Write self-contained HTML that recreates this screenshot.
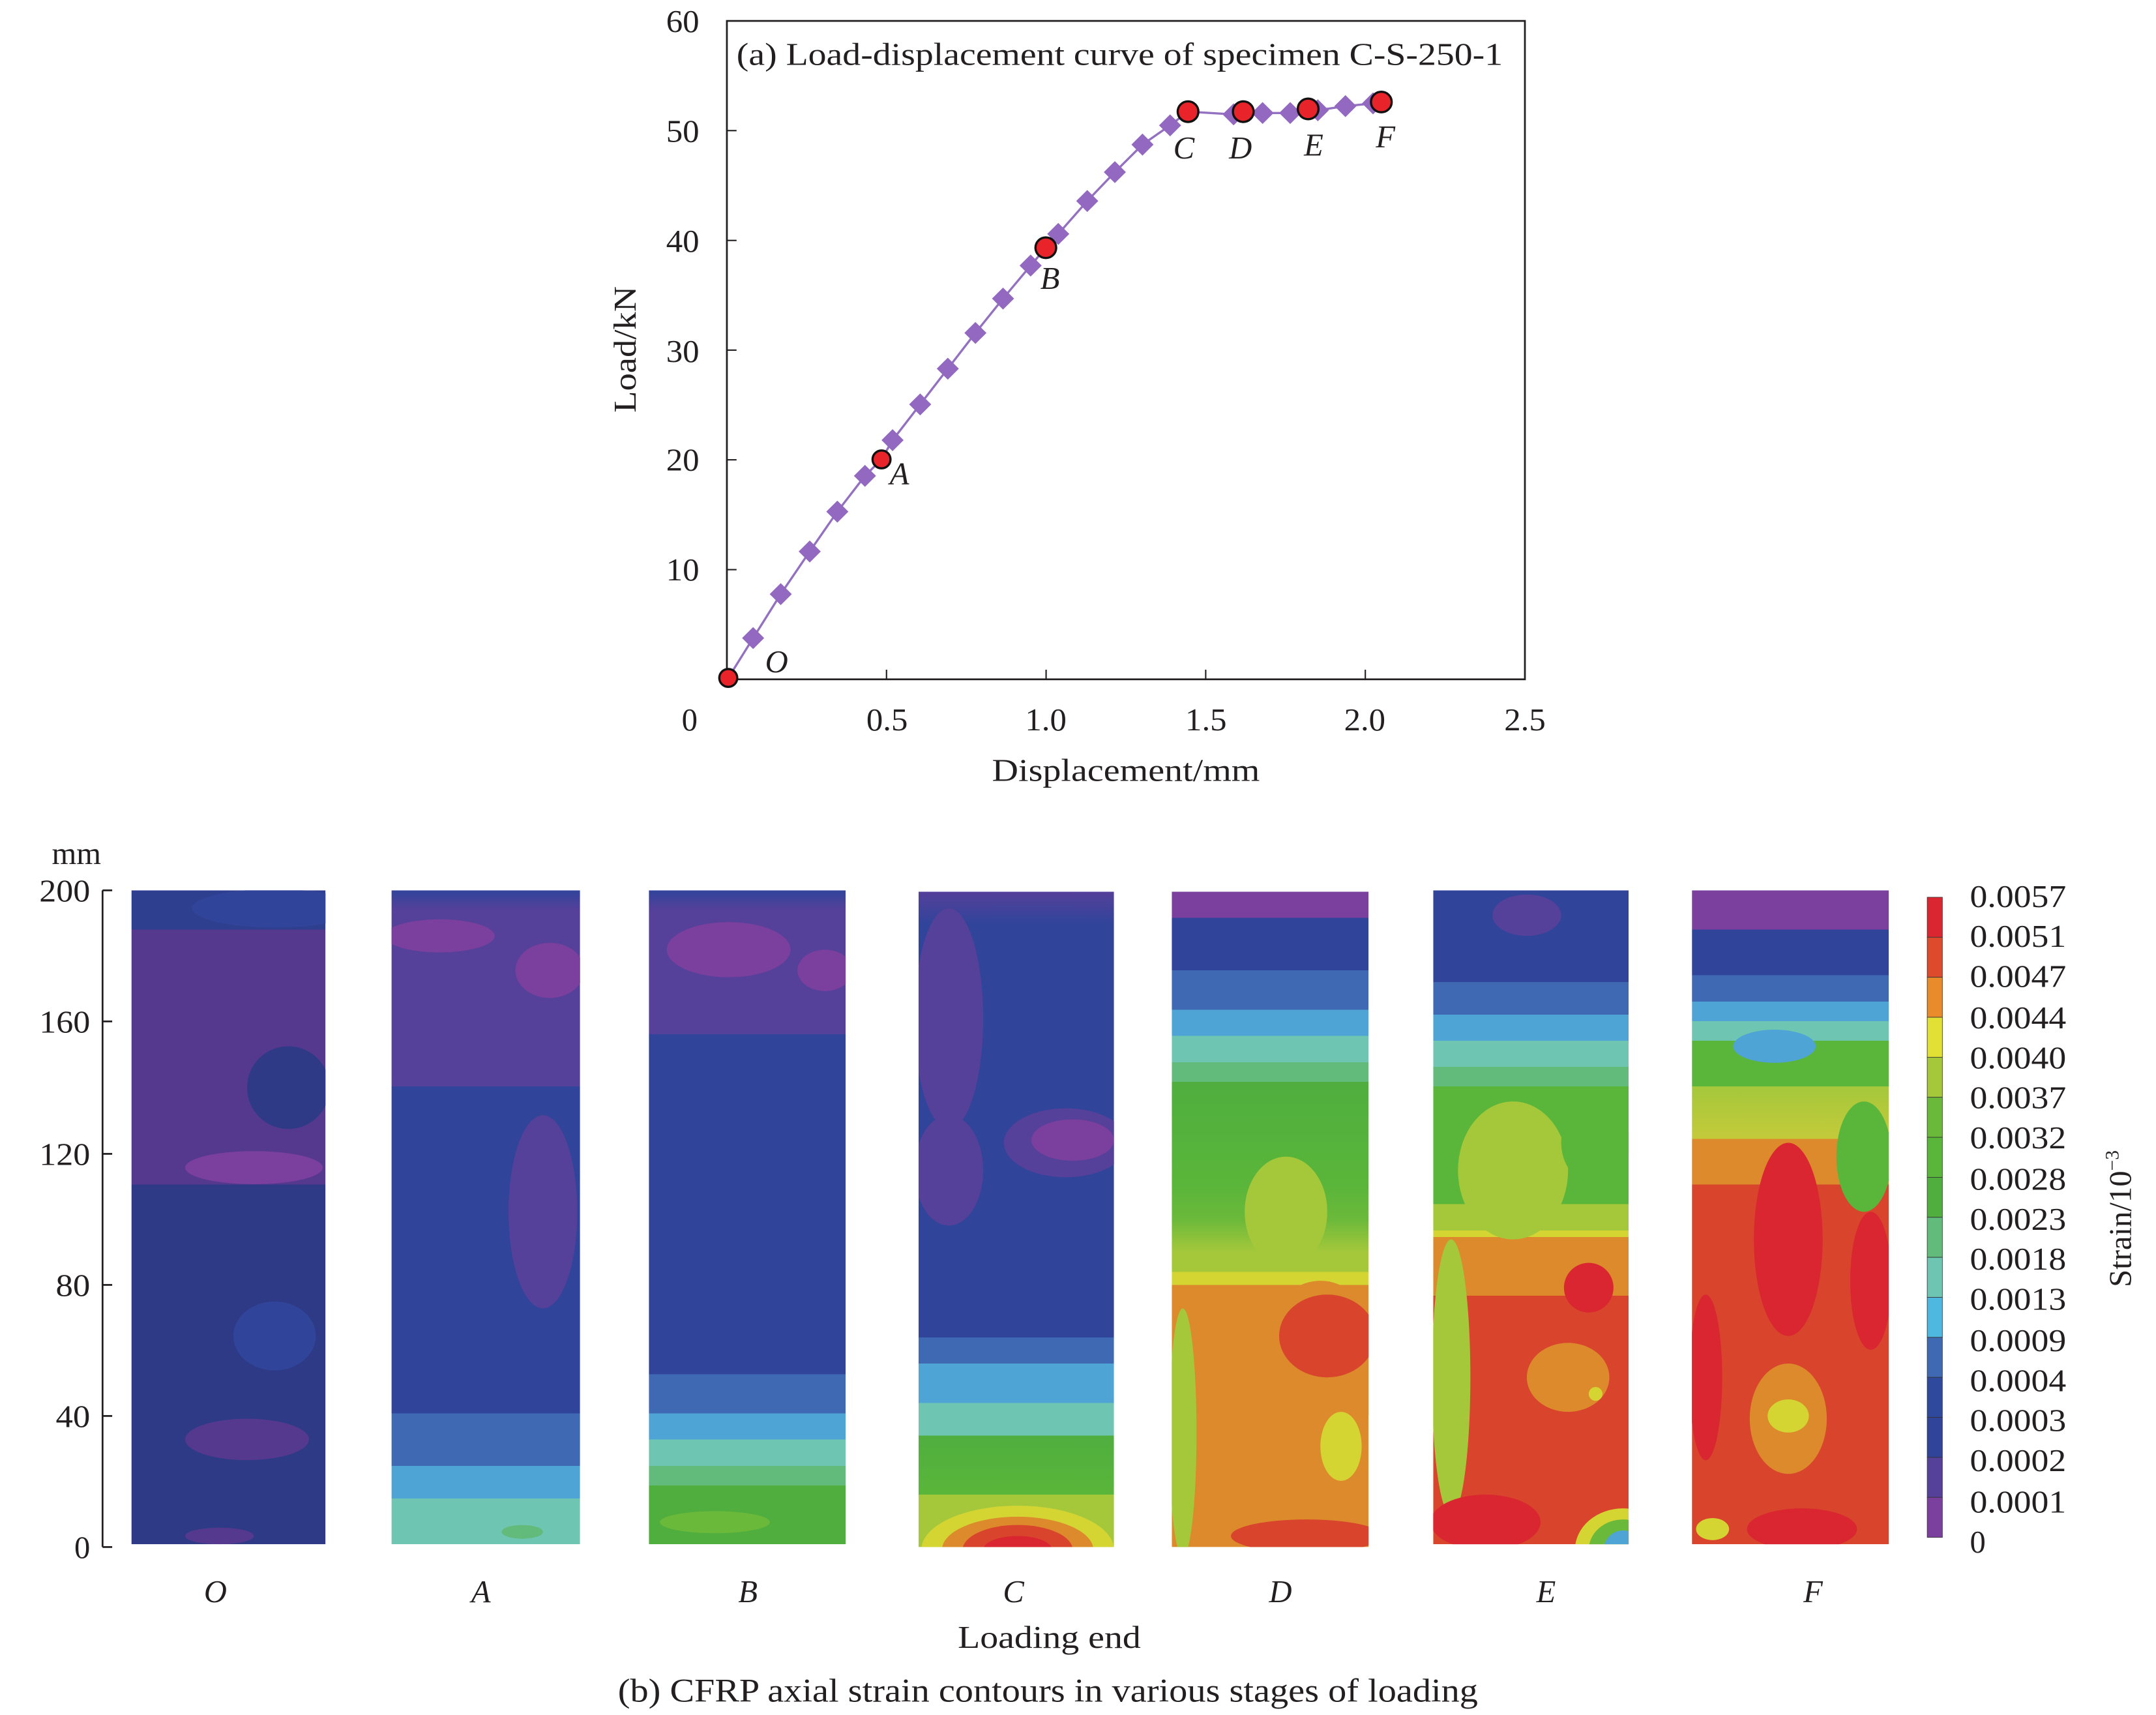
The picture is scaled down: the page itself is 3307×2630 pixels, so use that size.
<!DOCTYPE html>
<html><head><meta charset="utf-8"><style>
html,body{margin:0;padding:0;background:#fff}
svg{display:block}
text{font-family:"Liberation Serif",serif;fill:#231f20}
</style></head><body>
<svg width="3307" height="2630" viewBox="0 0 1550 1232.7" xmlns="http://www.w3.org/2000/svg">
<defs>
<linearGradient id="gO" x1="0" y1="0" x2="0" y2="1">
<stop offset="0" stop-color="#2f3f8f"/><stop offset="0.06" stop-color="#2f3f8f"/><stop offset="0.06" stop-color="#55398f"/><stop offset="0.45" stop-color="#55398f"/><stop offset="0.45" stop-color="#2e3a85"/><stop offset="1" stop-color="#2e3a85"/></linearGradient>
<linearGradient id="gA" x1="0" y1="0" x2="0" y2="1">
<stop offset="0" stop-color="#30449a"/><stop offset="0.03" stop-color="#55409a"/><stop offset="0.3" stop-color="#55409a"/><stop offset="0.3" stop-color="#30449a"/><stop offset="0.8" stop-color="#30449a"/><stop offset="0.8" stop-color="#3f6ab3"/><stop offset="0.88" stop-color="#3f6ab3"/><stop offset="0.88" stop-color="#4fa4d6"/><stop offset="0.93" stop-color="#4fa4d6"/><stop offset="0.93" stop-color="#6ec6b2"/><stop offset="1" stop-color="#6ec6b2"/></linearGradient>
<linearGradient id="gB" x1="0" y1="0" x2="0" y2="1">
<stop offset="0" stop-color="#30449a"/><stop offset="0.03" stop-color="#55409a"/><stop offset="0.22" stop-color="#55409a"/><stop offset="0.22" stop-color="#30449a"/><stop offset="0.74" stop-color="#30449a"/><stop offset="0.74" stop-color="#3f6ab3"/><stop offset="0.8" stop-color="#3f6ab3"/><stop offset="0.8" stop-color="#4fa4d6"/><stop offset="0.84" stop-color="#4fa4d6"/><stop offset="0.84" stop-color="#6ec6b2"/><stop offset="0.88" stop-color="#6ec6b2"/><stop offset="0.88" stop-color="#62bb7a"/><stop offset="0.91" stop-color="#62bb7a"/><stop offset="0.91" stop-color="#4fae3e"/><stop offset="1" stop-color="#4fae3e"/></linearGradient>
<linearGradient id="gC" x1="0" y1="0" x2="0" y2="1">
<stop offset="0" stop-color="#55409a"/><stop offset="0.05" stop-color="#30449a"/><stop offset="0.68" stop-color="#30449a"/><stop offset="0.68" stop-color="#3f6ab3"/><stop offset="0.72" stop-color="#3f6ab3"/><stop offset="0.72" stop-color="#4fa4d6"/><stop offset="0.78" stop-color="#4fa4d6"/><stop offset="0.78" stop-color="#6ec6b2"/><stop offset="0.83" stop-color="#6ec6b2"/><stop offset="0.83" stop-color="#4fae3e"/><stop offset="0.92" stop-color="#5ab63a"/><stop offset="0.92" stop-color="#a5c83b"/><stop offset="1" stop-color="#a5c83b"/></linearGradient>
<linearGradient id="gD" x1="0" y1="0" x2="0" y2="1">
<stop offset="0" stop-color="#7b3f9e"/><stop offset="0.04" stop-color="#7b3f9e"/><stop offset="0.04" stop-color="#30449a"/><stop offset="0.12" stop-color="#30449a"/><stop offset="0.12" stop-color="#3f6ab3"/><stop offset="0.18" stop-color="#3f6ab3"/><stop offset="0.18" stop-color="#4fa4d6"/><stop offset="0.22" stop-color="#4fa4d6"/><stop offset="0.22" stop-color="#6ec6b2"/><stop offset="0.26" stop-color="#6ec6b2"/><stop offset="0.26" stop-color="#62bb7a"/><stop offset="0.29" stop-color="#62bb7a"/><stop offset="0.29" stop-color="#4fae3e"/><stop offset="0.45" stop-color="#5ab63a"/><stop offset="0.5" stop-color="#6bb93a"/><stop offset="0.55" stop-color="#a5c83b"/><stop offset="0.58" stop-color="#a5c83b"/><stop offset="0.58" stop-color="#d4d533"/><stop offset="0.6" stop-color="#d4d533"/><stop offset="0.6" stop-color="#dc8a2c"/><stop offset="1" stop-color="#dc8a2c"/></linearGradient>
<linearGradient id="gE" x1="0" y1="0" x2="0" y2="1">
<stop offset="0" stop-color="#30449a"/><stop offset="0.14" stop-color="#30449a"/><stop offset="0.14" stop-color="#3f6ab3"/><stop offset="0.19" stop-color="#3f6ab3"/><stop offset="0.19" stop-color="#4fa4d6"/><stop offset="0.23" stop-color="#4fa4d6"/><stop offset="0.23" stop-color="#6ec6b2"/><stop offset="0.27" stop-color="#6ec6b2"/><stop offset="0.27" stop-color="#62bb7a"/><stop offset="0.3" stop-color="#62bb7a"/><stop offset="0.3" stop-color="#5ab63a"/><stop offset="0.48" stop-color="#5ab63a"/><stop offset="0.48" stop-color="#a5c83b"/><stop offset="0.52" stop-color="#a5c83b"/><stop offset="0.52" stop-color="#d4d533"/><stop offset="0.53" stop-color="#d4d533"/><stop offset="0.53" stop-color="#dc8a2c"/><stop offset="0.62" stop-color="#dc8a2c"/><stop offset="0.62" stop-color="#d8452c"/><stop offset="1" stop-color="#d8452c"/></linearGradient>
<linearGradient id="gF" x1="0" y1="0" x2="0" y2="1">
<stop offset="0" stop-color="#7b3f9e"/><stop offset="0.06" stop-color="#7b3f9e"/><stop offset="0.06" stop-color="#30449a"/><stop offset="0.13" stop-color="#30449a"/><stop offset="0.13" stop-color="#3f6ab3"/><stop offset="0.17" stop-color="#3f6ab3"/><stop offset="0.17" stop-color="#4fa4d6"/><stop offset="0.2" stop-color="#4fa4d6"/><stop offset="0.2" stop-color="#6ec6b2"/><stop offset="0.23" stop-color="#6ec6b2"/><stop offset="0.23" stop-color="#5ab63a"/><stop offset="0.3" stop-color="#5ab63a"/><stop offset="0.3" stop-color="#a5c83b"/><stop offset="0.38" stop-color="#c3ca3a"/><stop offset="0.38" stop-color="#dc8a2c"/><stop offset="0.45" stop-color="#dc8a2c"/><stop offset="0.45" stop-color="#d8452c"/><stop offset="1" stop-color="#d8452c"/></linearGradient>
<clipPath id="cO"><rect x="96" y="647" width="141" height="474"/></clipPath>
<clipPath id="cA"><rect x="285" y="647" width="137" height="474"/></clipPath>
<clipPath id="cB"><rect x="472" y="647" width="143" height="474"/></clipPath>
<clipPath id="cC"><rect x="668" y="648" width="142" height="475"/></clipPath>
<clipPath id="cD"><rect x="852" y="648" width="143" height="475"/></clipPath>
<clipPath id="cE"><rect x="1042" y="647" width="142" height="474"/></clipPath>
<clipPath id="cF"><rect x="1230" y="647" width="143" height="474"/></clipPath>
</defs>

<g transform="matrix(0.9926,0,0,0.988,-3.5,1.2)">
<rect x="530" y="14" width="578" height="479" fill="none" stroke="#231f20" stroke-width="1.3"/>
<g stroke="#231f20" stroke-width="1">
<line x1="530" y1="93.8" x2="537" y2="93.8"/><line x1="530" y1="173.7" x2="537" y2="173.7"/><line x1="530" y1="253.5" x2="537" y2="253.5"/><line x1="530" y1="333.3" x2="537" y2="333.3"/><line x1="530" y1="413.2" x2="537" y2="413.2"/>
<line x1="645.6" y1="493" x2="645.6" y2="486"/><line x1="761.2" y1="493" x2="761.2" y2="486"/><line x1="876.8" y1="493" x2="876.8" y2="486"/><line x1="992.4" y1="493" x2="992.4" y2="486"/>
</g>
<g font-size="23" text-anchor="end">
<text x="510" y="22" textLength="24" lengthAdjust="spacingAndGlyphs">60</text><text x="510" y="102" textLength="24" lengthAdjust="spacingAndGlyphs">50</text><text x="510" y="182" textLength="24" lengthAdjust="spacingAndGlyphs">40</text><text x="510" y="262" textLength="24" lengthAdjust="spacingAndGlyphs">30</text><text x="510" y="341" textLength="24" lengthAdjust="spacingAndGlyphs">20</text><text x="510" y="421" textLength="24" lengthAdjust="spacingAndGlyphs">10</text>
</g>
<g font-size="23" text-anchor="middle">
<text x="503" y="530">0</text><text x="646" y="530" textLength="30" lengthAdjust="spacingAndGlyphs">0.5</text><text x="761" y="530" textLength="30" lengthAdjust="spacingAndGlyphs">1.0</text><text x="877" y="530" textLength="30" lengthAdjust="spacingAndGlyphs">1.5</text><text x="992" y="530" textLength="30" lengthAdjust="spacingAndGlyphs">2.0</text><text x="1108" y="530" textLength="30" lengthAdjust="spacingAndGlyphs">2.5</text>
<text x="819" y="567" textLength="194" lengthAdjust="spacingAndGlyphs">Displacement/mm</text>
</g>
<text font-size="23" text-anchor="middle" transform="translate(464,253) rotate(-90)" textLength="92" lengthAdjust="spacingAndGlyphs">Load/kN</text>
<text x="537" y="46" font-size="23" textLength="555" lengthAdjust="spacingAndGlyphs">(a) Load-displacement curve of specimen C-S-250-1</text>
<polyline fill="none" stroke="#9370c0" stroke-width="1.6" points="531,492 549,463 569,431 590,400 610,371 630,345 642,333 650,319 670,293 690,267 710,241 730,216 750,192 761,179 770,169 791,145 811,124 831,104 851,90 864,80 897,82 904,80 918,81 938,81 951,78 958,79 978,76 998,74 1004,73"/>
<g fill="#9368c0">
<path d="M549 455l8 8-8 8-8-8z"/><path d="M569 423l8 8-8 8-8-8z"/><path d="M590 392l8 8-8 8-8-8z"/><path d="M610 363l8 8-8 8-8-8z"/><path d="M630 337l8 8-8 8-8-8z"/><path d="M650 311l8 8-8 8-8-8z"/><path d="M670 285l8 8-8 8-8-8z"/><path d="M690 259l8 8-8 8-8-8z"/><path d="M710 233l8 8-8 8-8-8z"/><path d="M730 208l8 8-8 8-8-8z"/><path d="M750 184l8 8-8 8-8-8z"/><path d="M770 161l8 8-8 8-8-8z"/><path d="M791 137l8 8-8 8-8-8z"/><path d="M811 116l8 8-8 8-8-8z"/><path d="M831 96l8 8-8 8-8-8z"/><path d="M851 82l8 8-8 8-8-8z"/><path d="M897 74l8 8-8 8-8-8z"/><path d="M918 73l8 8-8 8-8-8z"/><path d="M938 73l8 8-8 8-8-8z"/><path d="M958 71l8 8-8 8-8-8z"/><path d="M978 68l8 8-8 8-8-8z"/><path d="M998 66l8 8-8 8-8-8z"/>
</g>
<g fill="#e8232a" stroke="#111" stroke-width="1.6">
<circle cx="531" cy="492" r="6.5"/><circle cx="642" cy="333" r="6.5"/><circle cx="761" cy="179" r="7.5"/><circle cx="864" cy="80" r="7.5"/><circle cx="904" cy="80" r="7.5"/><circle cx="951" cy="78" r="7.5"/><circle cx="1004" cy="73" r="7.5"/>
</g>
<g font-size="23" font-style="italic" text-anchor="middle">
<text x="566" y="488">O</text><text x="655" y="351">A</text><text x="764" y="209">B</text><text x="861" y="114">C</text><text x="902" y="114">D</text><text x="955" y="112">E</text><text x="1007" y="106">F</text>
</g>
</g>

<g transform="matrix(0.9893,0,0,0.9916,-0.47,-1.6)">
<line x1="75" y1="647" x2="75" y2="1123" stroke="#231f20" stroke-width="1.3"/>
<g stroke="#231f20" stroke-width="1.3">
<line x1="75" y1="647" x2="82" y2="647"/><line x1="75" y1="742" x2="82" y2="742"/><line x1="75" y1="838" x2="82" y2="838"/><line x1="75" y1="933" x2="82" y2="933"/><line x1="75" y1="1028" x2="82" y2="1028"/><line x1="75" y1="1123" x2="82" y2="1123"/>
</g>
<g font-size="23" text-anchor="end">
<text x="66" y="655" textLength="37" lengthAdjust="spacingAndGlyphs">200</text><text x="66" y="750" textLength="37" lengthAdjust="spacingAndGlyphs">160</text><text x="66" y="846" textLength="37" lengthAdjust="spacingAndGlyphs">120</text><text x="66" y="941" textLength="25" lengthAdjust="spacingAndGlyphs">80</text><text x="66" y="1036" textLength="25" lengthAdjust="spacingAndGlyphs">40</text><text x="66" y="1131">0</text>
</g>
<text x="56" y="628" font-size="23" text-anchor="middle">mm</text>

<g clip-path="url(#cO)"><rect x="96" y="647" width="141" height="474" fill="url(#gO)"/>
<ellipse cx="200" cy="660" rx="60" ry="14" fill="#30449a"/>
<ellipse cx="210" cy="790" rx="30" ry="30" fill="#2e3a85"/><ellipse cx="185" cy="848" rx="50" ry="12" fill="#7b3f9e"/>
<ellipse cx="180" cy="1045" rx="45" ry="15" fill="#55398f"/><ellipse cx="200" cy="970" rx="30" ry="25" fill="#30449a"/><ellipse cx="160" cy="1115" rx="25" ry="6" fill="#55398f"/></g>
<g clip-path="url(#cA)"><rect x="285" y="647" width="137" height="474" fill="url(#gA)"/>
<ellipse cx="320" cy="680" rx="40" ry="12" fill="#7b3f9e"/><ellipse cx="400" cy="705" rx="25" ry="20" fill="#7b3f9e"/>
<ellipse cx="395" cy="880" rx="25" ry="70" fill="#55409a"/><ellipse cx="380" cy="1112" rx="15" ry="5" fill="#62bb7a"/></g>
<g clip-path="url(#cB)"><rect x="472" y="647" width="143" height="474" fill="url(#gB)"/>
<ellipse cx="530" cy="690" rx="45" ry="20" fill="#7b3f9e"/><ellipse cx="600" cy="705" rx="20" ry="15" fill="#7b3f9e"/>
<ellipse cx="520" cy="1105" rx="40" ry="8" fill="#6bb93a"/></g>
<g clip-path="url(#cC)"><rect x="668" y="648" width="142" height="475" fill="url(#gC)"/>
<ellipse cx="690" cy="740" rx="25" ry="80" fill="#55409a"/><ellipse cx="690" cy="850" rx="25" ry="40" fill="#55409a"/><ellipse cx="775" cy="830" rx="45" ry="25" fill="#55409a"/><ellipse cx="780" cy="828" rx="30" ry="15" fill="#7b3f9e"/>
<ellipse cx="740" cy="1125" rx="70" ry="32" fill="#d4d533"/><ellipse cx="740" cy="1125" rx="55" ry="24" fill="#dc8a2c"/><ellipse cx="740" cy="1125" rx="40" ry="18" fill="#d8452c"/><ellipse cx="740" cy="1125" rx="25" ry="10" fill="#d92630"/></g>
<g clip-path="url(#cD)"><rect x="852" y="648" width="143" height="475" fill="url(#gD)"/>
<ellipse cx="935" cy="880" rx="30" ry="40" fill="#a5c83b"/><ellipse cx="960" cy="990" rx="45" ry="60" fill="#dc8a2c"/><ellipse cx="965" cy="970" rx="35" ry="30" fill="#d8452c"/>
<ellipse cx="975" cy="1050" rx="15" ry="25" fill="#d4d533"/><ellipse cx="950" cy="1115" rx="55" ry="12" fill="#d8452c"/>
<ellipse cx="860" cy="1040" rx="10" ry="90" fill="#a5c83b"/></g>
<g clip-path="url(#cE)"><rect x="1042" y="647" width="142" height="474" fill="url(#gE)"/>
<ellipse cx="1110" cy="665" rx="25" ry="15" fill="#55409a"/>
<ellipse cx="1100" cy="850" rx="40" ry="50" fill="#a5c83b"/><ellipse cx="1160" cy="830" rx="25" ry="30" fill="#5ab63a"/>
<ellipse cx="1055" cy="1000" rx="14" ry="100" fill="#a5c83b"/><ellipse cx="1140" cy="1000" rx="30" ry="25" fill="#dc8a2c"/><ellipse cx="1155" cy="935" rx="18" ry="18" fill="#d92630"/><ellipse cx="1160" cy="1012" rx="5" ry="5" fill="#d4d533"/>
<ellipse cx="1080" cy="1105" rx="40" ry="20" fill="#d92630"/>
<ellipse cx="1180" cy="1125" rx="35" ry="30" fill="#d4d533"/><ellipse cx="1180" cy="1125" rx="25" ry="22" fill="#6bb93a"/><ellipse cx="1180" cy="1125" rx="14" ry="14" fill="#4fa4d6"/></g>
<g clip-path="url(#cF)"><rect x="1230" y="647" width="143" height="474" fill="url(#gF)"/>
<ellipse cx="1290" cy="760" rx="30" ry="12" fill="#4fa4d6"/><ellipse cx="1355" cy="840" rx="20" ry="40" fill="#5ab63a"/>
<ellipse cx="1300" cy="900" rx="25" ry="70" fill="#d92630"/><ellipse cx="1360" cy="930" rx="15" ry="50" fill="#d92630"/>
<ellipse cx="1300" cy="1030" rx="28" ry="40" fill="#dc8a2c"/><ellipse cx="1300" cy="1028" rx="15" ry="12" fill="#d4d533"/>
<ellipse cx="1240" cy="1000" rx="12" ry="60" fill="#d92630"/><ellipse cx="1310" cy="1110" rx="40" ry="15" fill="#d92630"/>
<ellipse cx="1245" cy="1110" rx="12" ry="8" fill="#d4d533"/></g>

<g stroke="#333" stroke-width="0.4">
<rect x="1401" y="652" width="11" height="29" fill="#d92630"/><rect x="1401" y="681" width="11" height="29" fill="#dd4a2c"/><rect x="1401" y="710" width="11" height="29" fill="#e98b2b"/><rect x="1401" y="739" width="11" height="29" fill="#e2e035"/><rect x="1401" y="768" width="11" height="29" fill="#a5c83b"/><rect x="1401" y="797" width="11" height="29" fill="#6bb93a"/><rect x="1401" y="826" width="11" height="29" fill="#5ab63a"/><rect x="1401" y="855" width="11" height="29" fill="#4fae3e"/><rect x="1401" y="884" width="11" height="29" fill="#62bb7a"/><rect x="1401" y="913" width="11" height="29" fill="#6ec6b2"/><rect x="1401" y="942" width="11" height="29" fill="#4fb8e0"/><rect x="1401" y="971" width="11" height="29" fill="#3f6ab3"/><rect x="1401" y="1000" width="11" height="29" fill="#2f4a9d"/><rect x="1401" y="1029" width="11" height="29" fill="#30449a"/><rect x="1401" y="1058" width="11" height="29" fill="#55409a"/><rect x="1401" y="1087" width="11" height="29" fill="#7b3f9e"/>
</g>
<g font-size="23">
<text x="1432" y="659" textLength="70" lengthAdjust="spacingAndGlyphs">0.0057</text><text x="1432" y="688" textLength="70" lengthAdjust="spacingAndGlyphs">0.0051</text><text x="1432" y="717" textLength="70" lengthAdjust="spacingAndGlyphs">0.0047</text><text x="1432" y="747" textLength="70" lengthAdjust="spacingAndGlyphs">0.0044</text><text x="1432" y="776" textLength="70" lengthAdjust="spacingAndGlyphs">0.0040</text><text x="1432" y="805" textLength="70" lengthAdjust="spacingAndGlyphs">0.0037</text><text x="1432" y="834" textLength="70" lengthAdjust="spacingAndGlyphs">0.0032</text><text x="1432" y="864" textLength="70" lengthAdjust="spacingAndGlyphs">0.0028</text><text x="1432" y="893" textLength="70" lengthAdjust="spacingAndGlyphs">0.0023</text><text x="1432" y="922" textLength="70" lengthAdjust="spacingAndGlyphs">0.0018</text><text x="1432" y="951" textLength="70" lengthAdjust="spacingAndGlyphs">0.0013</text><text x="1432" y="981" textLength="70" lengthAdjust="spacingAndGlyphs">0.0009</text><text x="1432" y="1010" textLength="70" lengthAdjust="spacingAndGlyphs">0.0004</text><text x="1432" y="1039" textLength="70" lengthAdjust="spacingAndGlyphs">0.0003</text><text x="1432" y="1068" textLength="70" lengthAdjust="spacingAndGlyphs">0.0002</text><text x="1432" y="1098" textLength="70" lengthAdjust="spacingAndGlyphs">0.0001</text><text x="1432" y="1127">0</text>
</g>
<text font-size="23" text-anchor="middle" transform="translate(1549,885) rotate(-90)">Strain/10<tspan font-size="14" dy="-9">−3</tspan></text>

<g font-size="23" font-style="italic" text-anchor="middle">
<text x="157" y="1163">O</text><text x="350" y="1163">A</text><text x="544" y="1163">B</text><text x="737" y="1163">C</text><text x="931" y="1163">D</text><text x="1124" y="1163">E</text><text x="1318" y="1163">F</text>
</g>
<text x="763" y="1196" font-size="23" text-anchor="middle" textLength="133" lengthAdjust="spacingAndGlyphs">Loading end</text>
<text x="762" y="1235" font-size="24" text-anchor="middle" textLength="625" lengthAdjust="spacingAndGlyphs">(b) CFRP axial strain contours in various stages of loading</text>
</g>
</svg>
</body></html>
